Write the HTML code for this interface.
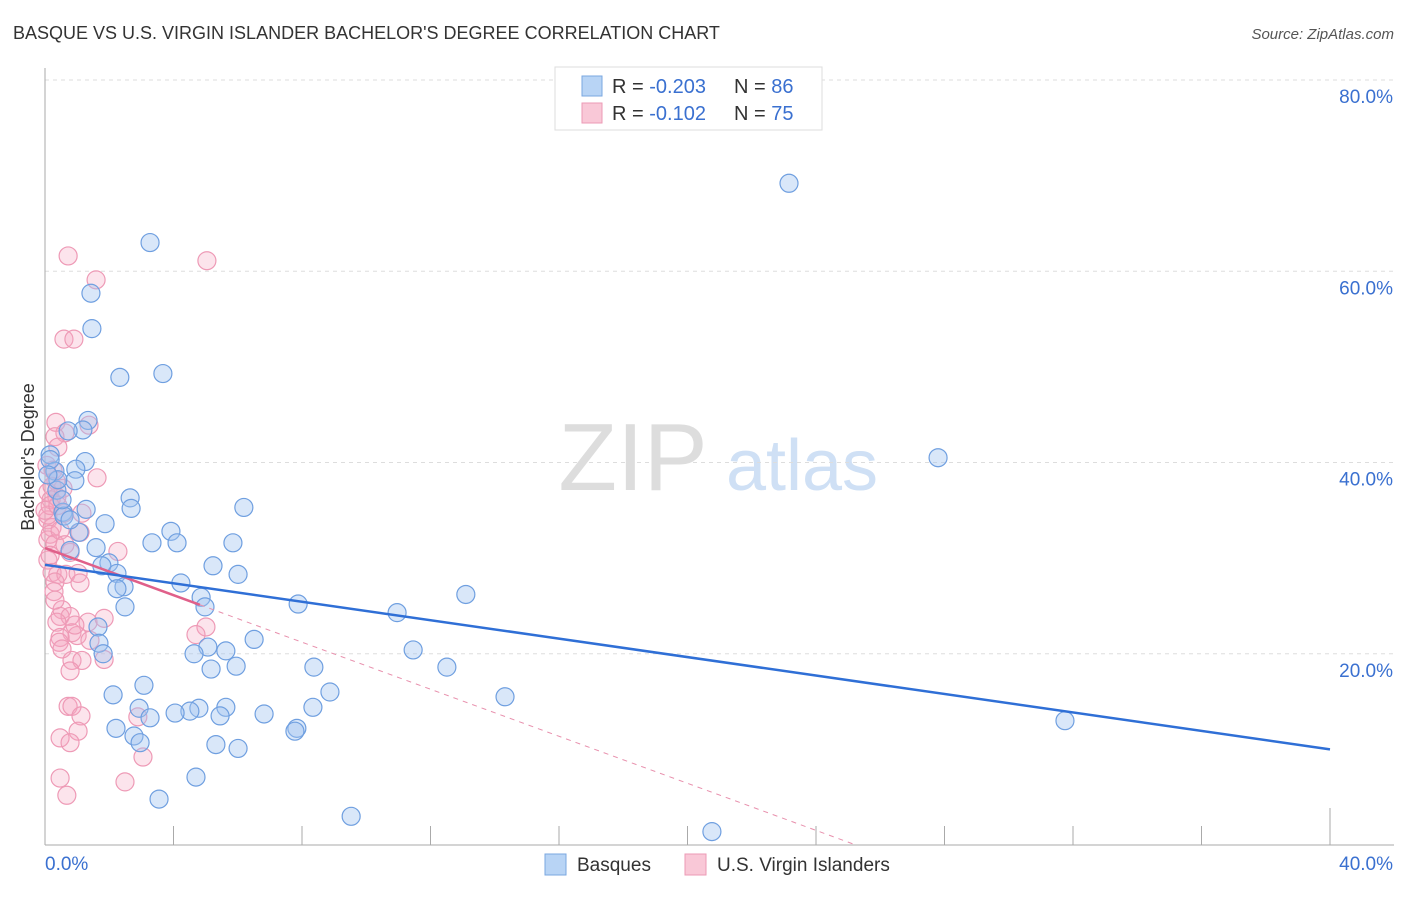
<!DOCTYPE html>
<html><head><meta charset="utf-8"><style>
body{margin:0;background:#fff;font-family:"Liberation Sans",sans-serif;}
svg text{font-family:"Liberation Sans",sans-serif;}
</style></head><body>
<svg id="chart" width="1406" height="892" viewBox="0 0 1406 892" xmlns="http://www.w3.org/2000/svg">
<text x="13" y="39" font-size="18" fill="#333">BASQUE VS U.S. VIRGIN ISLANDER BACHELOR'S DEGREE CORRELATION CHART</text>
<text x="1394" y="39" font-size="15" fill="#555" text-anchor="end" font-style="italic">Source: ZipAtlas.com</text>
<g>
<text x="633" y="490" font-size="96" fill="#ddd" font-family="Liberation Serif" text-anchor="middle">ZIP</text>
<text x="802" y="490" font-size="72" fill="#cfe0f5" text-anchor="middle">atlas</text>
</g>
<g id="grid"></g>
<g id="axes"></g>
<g id="marks"></g>
<text transform="translate(34,457) rotate(-90)" font-size="18" fill="#333" text-anchor="middle">Bachelor's Degree</text>
<g>
<rect x="555" y="67" width="267" height="63" fill="#fff" stroke="#ddd"/>
<rect x="582" y="76" width="20" height="20" fill="#b8d4f5" stroke="#7aa7e0"/>
<rect x="582" y="103" width="20" height="20" fill="#f9c8d7" stroke="#ec9ab5"/>
<text x="612" y="93" font-size="20" fill="#333">R = <tspan fill="#3a70d0">-0.203</tspan></text>
<text x="734" y="93" font-size="20" fill="#333">N = <tspan fill="#3a70d0">86</tspan></text>
<text x="612" y="120" font-size="20" fill="#333">R = <tspan fill="#3a70d0"> -0.102</tspan></text>
<text x="734" y="120" font-size="20" fill="#333">N = <tspan fill="#3a70d0">75</tspan></text>
</g>
<g>
<rect x="545" y="854" width="21" height="21" fill="#b8d4f5" stroke="#7aa7e0"/>
<text x="577" y="871" font-size="19" fill="#333">Basques</text>
<rect x="685" y="854" width="21" height="21" fill="#f9c8d7" stroke="#ec9ab5"/>
<text x="717" y="871" font-size="19" fill="#333">U.S. Virgin Islanders</text>
</g>
</svg>
<script>
const yTicks=[20,40,60,80];
const yTickLabels=["20.0%","40.0%","60.0%","80.0%"];
const xTickLabels=["0.0%","40.0%"];
const blueX=[23.16,3.27,1.43,1.46,2.33,3.67,27.8,1.34,1.18,0.72,0.16,1.25,0.96,0.31,0.93,0.37,2.65,6.19,1.28,2.68,0.56,0.59,1.87,3.92,1.06,3.33,4.11,5.85,1.59,0.78,1.99,1.77,5.23,2.24,6.01,4.23,2.46,2.24,4.86,7.88,4.98,2.49,10.96,13.1,1.65,1.68,6.51,5.07,1.81,4.64,5.63,11.46,5.17,5.95,8.37,12.51,3.08,2.12,8.87,14.32,8.34,2.93,5.63,4.79,4.51,4.05,3.27,5.45,6.82,7.84,7.78,2.21,2.77,2.96,5.32,6.01,31.75,4.70,3.55,9.53,20.76,0.16,0.40,0.53,0.78,0.09];
const blueY=[69.2,63.0,57.7,54.0,48.9,49.3,40.5,44.4,43.4,43.3,40.8,40.1,39.3,39.1,38.1,37.1,36.3,35.3,35.1,35.2,34.8,34.4,33.6,32.8,32.7,31.6,31.6,31.6,31.1,30.8,29.5,29.2,29.2,28.4,28.3,27.4,27.0,26.8,25.9,25.2,24.9,24.9,24.3,26.2,22.8,21.1,21.5,20.7,20.0,20.0,20.3,20.4,18.4,18.7,18.6,18.6,16.7,15.7,16.0,15.5,14.4,14.3,14.4,14.3,14.0,13.8,13.3,13.5,13.7,12.2,11.9,12.2,11.4,10.7,10.5,10.1,13.0,7.1,4.8,3.0,1.4,40.3,38.2,36.1,34.0,38.7];
const pinkX=[0.72,1.59,5.04,0.59,0.90,0.34,1.37,0.62,0.31,0.40,0.06,0.25,0.34,1.62,0.56,0.09,0.37,0.19,1.15,0.59,0.09,0.22,1.09,0.16,0.09,0.31,2.27,0.78,0.09,0.22,0.40,0.65,1.03,1.09,0.31,0.28,0.53,0.47,0.78,0.37,1.34,1.84,5.01,0.84,0.47,1.00,0.44,4.70,0.53,0.84,1.15,1.84,0.78,0.72,0.84,1.12,2.89,1.03,0.47,0.78,3.05,0.47,2.49,0.68,0.09,0.16,0.22,0.0,0.47,0.62,0.31,0.93,1.40,0.16,0.40];
const pinkY=[61.6,59.1,61.1,52.9,52.9,44.2,43.9,43.1,42.7,41.6,39.7,39.2,38.1,38.4,37.3,36.9,36.4,36.1,34.7,34.7,34.0,33.2,32.7,32.5,31.9,31.5,30.7,30.6,29.8,28.5,28.3,28.3,28.4,27.4,27.5,26.5,24.6,23.9,23.9,23.3,23.3,23.7,22.8,22.2,21.7,21.9,21.2,22.0,20.5,19.3,19.3,19.4,18.2,14.5,14.5,13.5,13.4,11.9,11.2,10.7,9.2,7.0,6.6,5.2,34.5,35.5,37.5,35.0,32.9,31.4,25.6,23.0,21.4,30.3,35.5];
const blueTrend=[29.3,10.0];
const pinkTrend=[31.05,-1.23];
const pinkSolidEnd=4.82;

const X=v=>45+v*(1285/40);
const Y=v=>845-v*(765/80);
const NS='http://www.w3.org/2000/svg';
function mk(parent,tag,attrs){const e=document.createElementNS(NS,tag);for(const k in attrs)e.setAttribute(k,attrs[k]);document.getElementById(parent).appendChild(e);return e;}

yTicks.forEach((t,i)=>{
 const g=mk('grid','line',{x1:45,x2:1394,y1:Y(t),y2:Y(t),stroke:'#ddd','stroke-dasharray':'4,4'});
 
 
 const l=mk('grid','text',{x:1393,y:Y(t)+23,'font-size':19,fill:'#3a70d0','text-anchor':'end'});
 
 
 l.textContent=yTickLabels[i];
});
let a=mk('axes','line',{x1:45,x2:45,y1:68,y2:845,stroke:'#aaa'});


a=mk('axes','line',{x1:45,x2:1394,y1:845,y2:845,stroke:'#aaa'});


for(let i=1;i<=10;i++){
 const t=mk('axes','line',{x1:X(i*4),x2:X(i*4),y1:i==10?808:826,y2:845,stroke:'#aaa'});
 
 
}
[[0,'start',45],[40,'end',1393]].forEach((d,i)=>{
 const l=mk('axes','text',{x:d[2],y:870,'font-size':19,fill:'#3a70d0','text-anchor':d[1]});
 
 
 l.textContent=xTickLabels[i];
});
pinkX.forEach((v,i)=>{
 const c=mk('marks','circle',{cx:X(v),cy:Y(pinkY[i]),r:9,fill:'rgba(245,165,192,0.3)',stroke:'#ee9ab6','stroke-width':1.2});
 
 
});
blueX.forEach((v,i)=>{
 const c=mk('marks','circle',{cx:X(v),cy:Y(blueY[i]),r:9,fill:'rgba(160,196,240,0.4)',stroke:'#6f9fe0','stroke-width':1.2});
 
 
});
const zeroX=-pinkTrend[0]/pinkTrend[1];
let tl=mk('marks','line',{x1:X(pinkSolidEnd),y1:Y(pinkTrend[0]+pinkTrend[1]*pinkSolidEnd),x2:X(zeroX),y2:Y(0),stroke:'#e890ad','stroke-dasharray':'5,5','stroke-width':1});


tl=mk('marks','line',{x1:X(0),y1:Y(pinkTrend[0]),x2:X(pinkSolidEnd),y2:Y(pinkTrend[0]+pinkTrend[1]*pinkSolidEnd),stroke:'#e0608a','stroke-width':2.5});


tl=mk('marks','line',{x1:X(0),y1:Y(blueTrend[0]),x2:X(40),y2:Y(blueTrend[1]),stroke:'#2f6fd6','stroke-width':2.5});


</script>
</body></html>
